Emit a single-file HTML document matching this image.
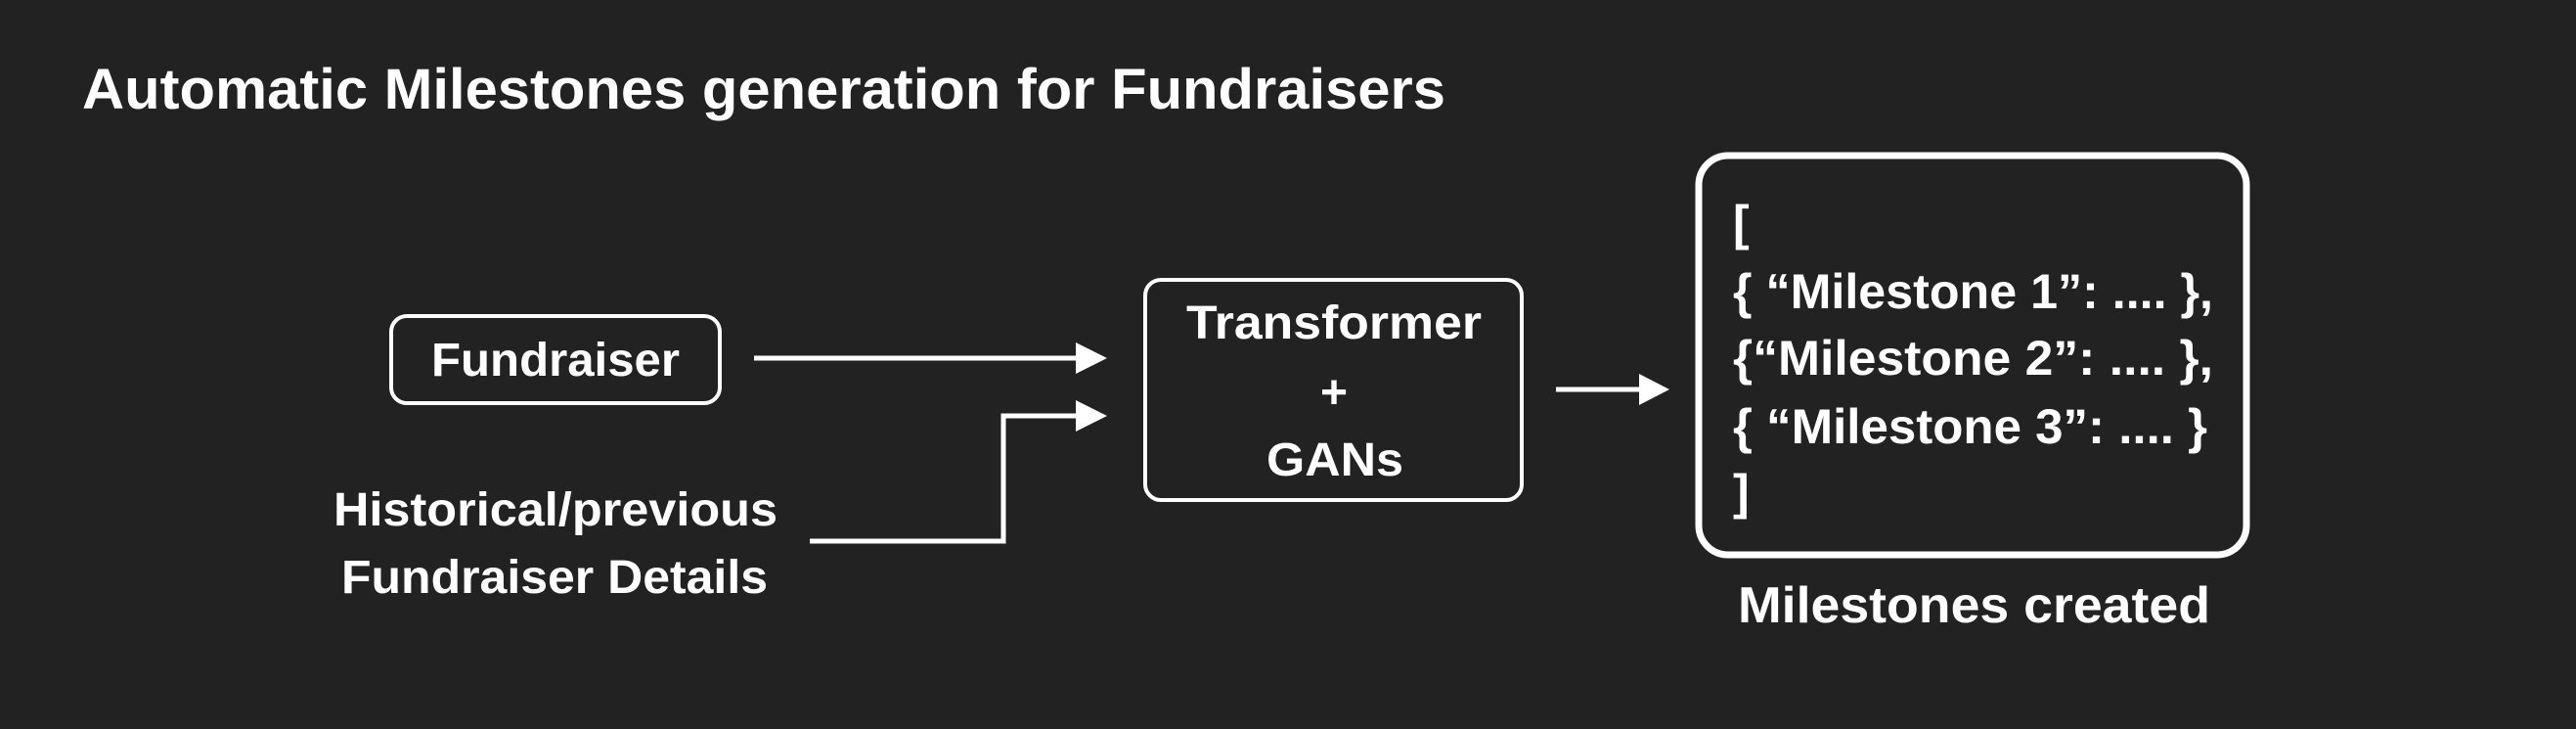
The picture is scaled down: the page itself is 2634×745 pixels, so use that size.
<!DOCTYPE html>
<html><head><meta charset="utf-8"><style>
html,body{margin:0;padding:0;background:#222222;}
svg{display:block;}
text{font-family:"Liberation Sans",sans-serif;font-weight:bold;fill:#fff;}
</style></head><body>
<svg width="2634" height="745" viewBox="0 0 2634 745" xmlns="http://www.w3.org/2000/svg">
<rect width="2634" height="745" fill="#222222"/>
<text x="84" y="111" font-size="58" textLength="1394" lengthAdjust="spacingAndGlyphs">Automatic Milestones generation for Fundraisers</text>

<rect x="400" y="323" width="336" height="89" rx="16" fill="none" stroke="#fff" stroke-width="4"/>
<text x="441" y="384" font-size="48" textLength="254" lengthAdjust="spacingAndGlyphs">Fundraiser</text>

<line x1="771" y1="366" x2="1104" y2="366" stroke="#fff" stroke-width="5"/>
<polygon points="1100,350 1132,366 1100,382" fill="#fff"/>

<polyline points="828,553 1026,553 1026,425 1104,425" fill="none" stroke="#fff" stroke-width="5"/>
<polygon points="1100,409 1132,425 1100,441" fill="#fff"/>

<text x="341" y="537" font-size="48" textLength="454" lengthAdjust="spacingAndGlyphs">Historical/previous</text>
<text x="349" y="606" font-size="48" textLength="436" lengthAdjust="spacingAndGlyphs">Fundraiser Details</text>

<rect x="1171" y="286" width="385" height="225" rx="16" fill="none" stroke="#fff" stroke-width="4"/>
<text x="1213" y="346" font-size="48" textLength="302" lengthAdjust="spacingAndGlyphs">Transformer</text>
<text x="1364" y="417" font-size="48" text-anchor="middle">+</text>
<text x="1295" y="486" font-size="48" textLength="140" lengthAdjust="spacingAndGlyphs">GANs</text>

<line x1="1591" y1="398" x2="1680" y2="398" stroke="#fff" stroke-width="5"/>
<polygon points="1676,382 1707,398 1676,414" fill="#fff"/>

<rect x="1737" y="159" width="560" height="408" rx="30" fill="none" stroke="#fff" stroke-width="7"/>
<text x="1772" y="245" font-size="50">[</text>
<text x="1772" y="315" font-size="50" textLength="491" lengthAdjust="spacingAndGlyphs">{ “Milestone 1”: .... },</text>
<text x="1772" y="383" font-size="50" textLength="491" lengthAdjust="spacingAndGlyphs">{“Milestone 2”: .... },</text>
<text x="1772" y="453" font-size="50" textLength="485" lengthAdjust="spacingAndGlyphs">{ “Milestone 3”: .... }</text>
<text x="1772" y="520" font-size="50">]</text>

<text x="1777" y="636" font-size="52" textLength="483" lengthAdjust="spacingAndGlyphs">Milestones created</text>
</svg>
</body></html>
